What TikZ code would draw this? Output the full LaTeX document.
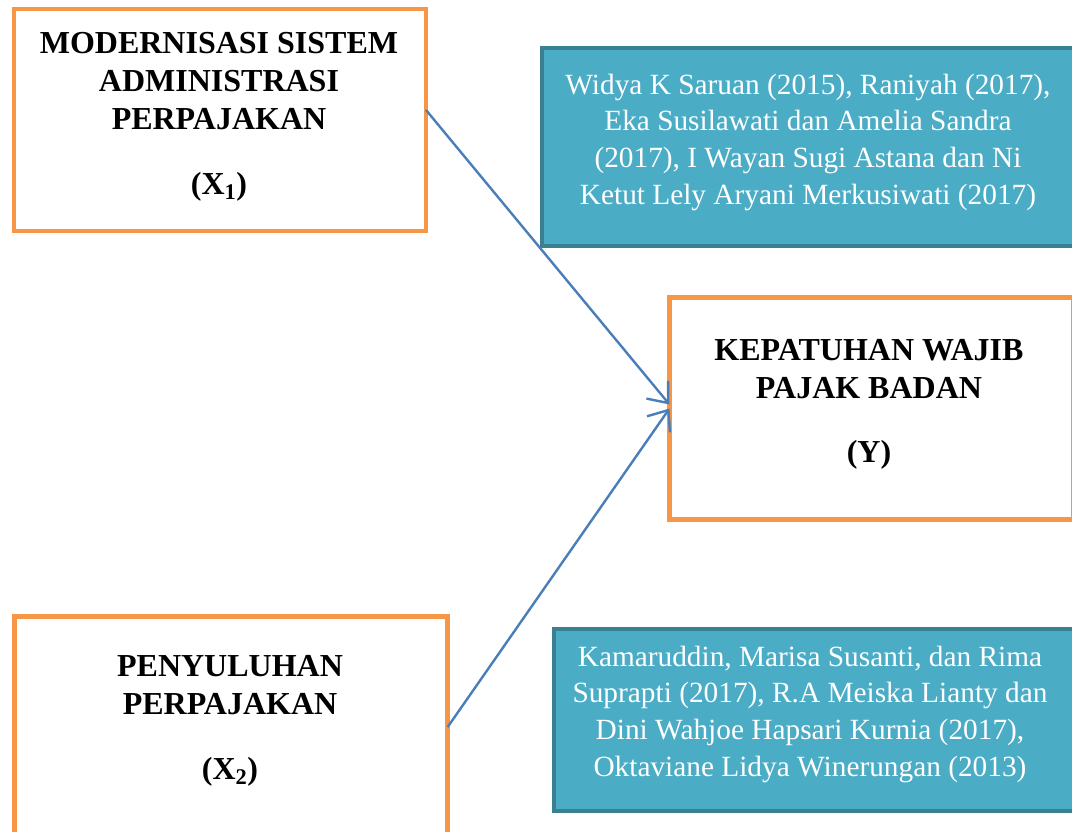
\documentclass[tikz,border=0pt]{standalone}
\usepackage{fontspec}
\setmainfont{Liberation Serif}
\usetikzlibrary{arrows.meta}

\definecolor{boxorange}{HTML}{F79646}
\definecolor{refteal}{HTML}{4BACC6}
\definecolor{refedge}{HTML}{3A7F92}
\definecolor{linkblue}{HTML}{4A7EBB}

\tikzset{
	varbox/.style={draw=boxorange, line width=3.6pt, fill=white, outer sep=0pt, inner sep=0pt},
	refbox/.style={draw=refedge, line width=3pt, fill=refteal, outer sep=0pt, inner sep=0pt},
	vartext/.style={font=\bfseries\fontsize{24}{28.5}\selectfont, align=center},
	reftext/.style={font=\fontsize{22}{27.5}\selectfont, text=white, align=center},
	link/.style={draw=linkblue, line width=1.8pt, -{Straight Barb[length=13pt,width=21pt,line width=1.8pt]}}
}

\begin{document}
\begin{tikzpicture}[x=0.75pt, y=-0.75pt]
		%\draw [help lines] (0,0) grid (1072,832);
		\useasboundingbox (0,0) rectangle (1072,832);
		\clip (0,0) rectangle (1072,832);
		\def\gap{20pt}	% blank line before the variable symbol
		% variables
			\node [varbox, minimum width=309pt, minimum height=166.5pt] (x1) at (220,120) {};
			\node [vartext] (x1t) at (219,117) {MODERNISASI SISTEM\\ADMINISTRASI\\PERPAJAKAN\\[\gap](X\textsubscript{1})};
			\node [varbox, minimum width=303pt, minimum height=166pt] (y) at (871.5,408.5) {};
			\node [vartext] (yt) at (869,404.5) {KEPATUHAN WAJIB\\PAJAK BADAN\\[\gap](Y)};
			\node [varbox, minimum width=325pt, minimum height=166pt] (x2) at (231,727) {};
			\node [vartext] (x2t) at (230,721) {PENYULUHAN\\PERPAJAKAN\\[\gap](X\textsubscript{2})};
		% previous studies
			\node [refbox, minimum width=400pt, minimum height=148.5pt] (r1) at (808.5,147) {};
			\node [reftext] (r1t) at (808,142) {Widya K Saruan (2015), Raniyah (2017),\\Eka Susilawati dan Amelia Sandra\\(2017), I Wayan Sugi Astana dan Ni\\Ketut Lely Aryani Merkusiwati (2017)};
			\node [refbox, minimum width=397pt, minimum height=136.5pt] (r2) at (819,720) {};
			\node [reftext] (r2t) at (810,714) {Kamaruddin, Marisa Susanti, dan Rima\\Suprapti (2017), R.A Meiska Lianty dan\\Dini Wahjoe Hapsari Kurnia (2017),\\Oktaviane Lidya Winerungan (2013)};
		% arrows
			\draw [link] ([yshift=7.5pt]x1.east) -- ([yshift=3pt]y.west);
			\draw [link] (x2.east) -- (y.west);
	\end{tikzpicture}
\end{document}
